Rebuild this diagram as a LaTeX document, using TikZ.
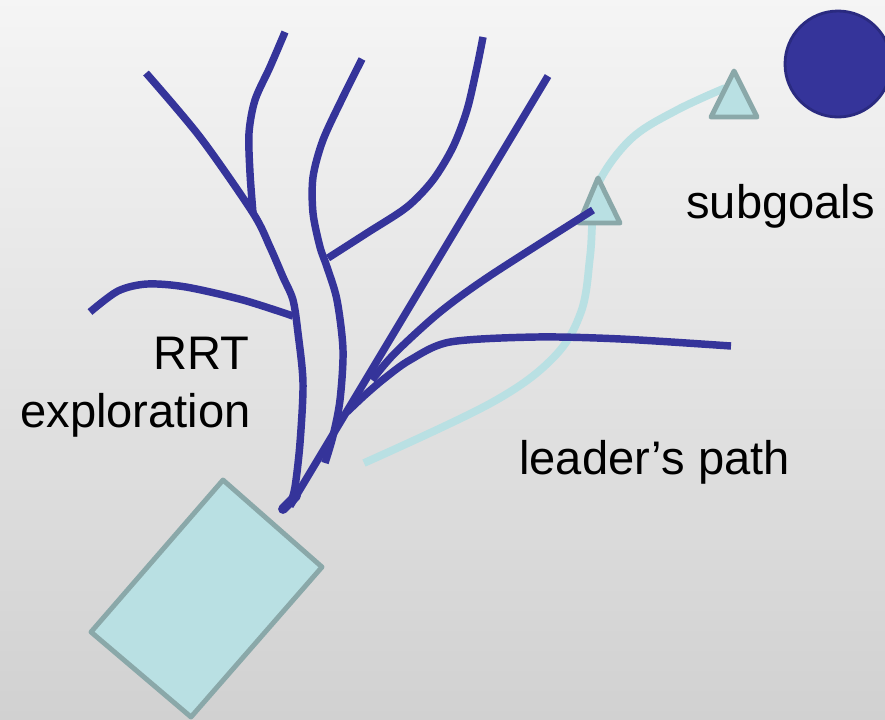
\documentclass[tikz,border=0pt]{standalone}
\usepackage{fontspec}
\setmainfont{Liberation Sans}
\usetikzlibrary{positioning}

\definecolor{treeblue}{HTML}{35349A}
\definecolor{pathcyan}{HTML}{B9E0E3}
\definecolor{edgegray}{HTML}{8AA8A9}
\definecolor{goalring}{HTML}{2A2A80}

\begin{document}
\begin{tikzpicture}[x=0.025cm, y=-0.025cm,
    branch/.style={draw=treeblue, line width=5.3pt},
    leader/.style={draw=pathcyan, line width=5.5pt},
    subgoal/.style={fill=pathcyan, draw=edgegray, line width=3.5pt,
        line join=round},
    lbl/.style={font=\fontsize{33.5}{41}\selectfont, inner sep=0pt}]

    \shade[top color=black!4, middle color=black!1.5, bottom color=black!18]
        (0,0) rectangle (885,719);
    \useasboundingbox (0,0) rectangle (885,719);

    % robot
    \filldraw[subgoal] (223,480) -- (322,567) -- (191,717) --
                       (91,632) -- cycle;

    % leader's path and subgoals
    \draw[leader] plot[smooth, tension=0.6] coordinates {(364,463)
        (491,403) (553,358) (581,312) (590,257) (593,215) (600,180)
        (632,138) (677,110) (725,88)};
    \filldraw[subgoal] (711,117) -- (757,117) -- (734,71) -- cycle;
    \filldraw[subgoal] (579,223) -- (620,223) -- (598,178) -- cycle;

    % goal
    \filldraw[fill=treeblue, draw=goalring, line width=2pt]
        (838,64) circle (53);

    % RRT tree
    \draw[branch] plot[smooth] coordinates {(285,32) (270,67) (255,100)
        (249,133) (250,173) (253,213)};
    \draw[branch] plot[smooth] coordinates {(146,73) (200,137) (253,213)
        (270,247) (283,277) (293,300) (298,333) (303,383) (300,443)
        (295,487) (290,505)};
    \draw[branch] plot[smooth] coordinates {(362,59) (343,97) (323,140)
        (313,177) (313,213) (320,247) (327,267) (337,300) (343,350)
        (340,400) (333,436) (325,463)};
    \draw[branch] plot[smooth] coordinates {(328,258) (367,233) (407,207)
        (433,180) (453,147) (467,110) (477,67) (483,37)};
    \draw[branch] (548,76) -- (290,506);
    \draw[branch] plot[smooth] coordinates {(593,210) (491,275) (440,312)
        (395,353) (372,380)};
    \draw[branch] plot[smooth] coordinates {(731,346) (621,339) (536,337)
        (450,342) (410,360) (385,378) (365,395) (347,412)};
    \draw[branch] plot[smooth] coordinates {(90,312) (118,291) (147,284)
        (186,287) (243,300) (293,316)};
    \draw[treeblue, line width=7pt, line cap=round] (283,509) -- (296,496);

    % labels
    \node[lbl, anchor=base east] (nodeRRT) at (250,369) {RRT};
    \node[lbl, anchor=base east] (nodeExpl) at (251,427) {exploration};
    \node[lbl, anchor=base west] (nodeSub) at (686,218) {subgoals};
    \node[lbl, anchor=base west] (nodeLead) at (519,474) {leader's path};

\end{tikzpicture}
\end{document}
